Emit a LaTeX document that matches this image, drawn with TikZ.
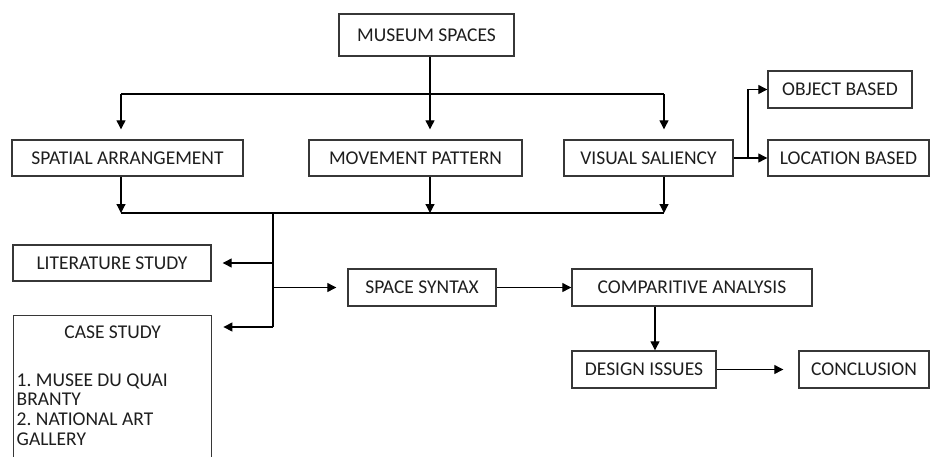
\documentclass[tikz,border=0pt]{standalone}
\usepackage{fontspec}
\setmainfont{Carlito}
\usetikzlibrary{arrows.meta}
\definecolor{inkgray}{RGB}{30,30,30}
\definecolor{framegray}{RGB}{55,55,55}
\frenchspacing
\begin{document}
\begin{tikzpicture}[x=1pt,y=-1pt,
  box/.style={draw=framegray, line width=1.4pt, inner sep=0pt, text=inkgray,
    font=\fontsize{19.5}{21}\selectfont},
  ln/.style={draw=black, line width=1.2pt},
  arr/.style={ln, -{Triangle[length=9pt,width=9pt]}}]
\useasboundingbox (0,0) rectangle (930,456);
\fill[white] (0,0) rectangle (930,456);
\clip (0,0) rectangle (930,456);

% boxes
\node[box, minimum width=175pt, minimum height=42pt] (ms) at (426.5,35) {MUSEUM SPACES};
\node[box, minimum width=231pt, minimum height=36pt] (sa) at (127.5,158) {SPATIAL ARRANGEMENT};
\node[box, minimum width=213pt, minimum height=36pt] (mp) at (415.5,158) {MOVEMENT PATTERN};
\node[box, minimum width=169pt, minimum height=36pt] (vs) at (648.5,158) {VISUAL SALIENCY};
\node[box, minimum width=144pt, minimum height=37pt] (ob) at (840,89.5) {OBJECT BASED};
\node[box, minimum width=161pt, minimum height=36pt] (lb) at (848.5,158) {LOCATION BASED};
\node[box, minimum width=198pt, minimum height=36pt] (lit) at (112,263) {LITERATURE STUDY};
\node[box, anchor=north west, inner xsep=3pt, inner ysep=10pt] (cs) at (13,315)
  {\parbox[t][150pt][t]{192pt}{\centering CASE STUDY\par\vspace{28pt}%
   \raggedright\baselineskip=19.8pt 1. MUSEE DU QUAI\\BRANTY\\2. NATIONAL ART\\GALLERY}};
\node[box, minimum width=148pt, minimum height=37pt] (ss) at (422,287.5) {SPACE SYNTAX};
\node[box, minimum width=240pt, minimum height=37pt] (ca) at (692,287.5) {COMPARITIVE ANALYSIS};
\node[box, minimum width=144pt, minimum height=37pt] (di) at (644,369.5) {DESIGN ISSUES};
\node[box, minimum width=130pt, minimum height=37pt] (con) at (864,369.5) {CONCLUSION};

% upper distribution bus
\coordinate (tl) at (121,94);
\coordinate (tm) at (430,94);
\coordinate (tr) at (664,94);
\draw[ln] (ms.south -| tm) -- (tm);
\draw[ln] (tl) -- (tr);
\draw[arr, shorten >=10pt] (tl) -- (sa.north -| tl);
\draw[arr, shorten >=10pt] (tm) -- (mp.north -| tm);
\draw[arr, shorten >=10pt] (tr) -- (vs.north -| tr);

% visual saliency split
\coordinate (vj) at (748,158);
\draw[ln] (vs.east) -- (vj);
\draw[arr] (vj) -- (lb.west);
\draw[arr] (vj) |- (ob.west);

% lower collecting bus
\coordinate (bl) at (121,213);
\coordinate (bm) at (430,213);
\coordinate (br) at (664,213);
\draw[arr] (sa.south -| bl) -- (bl);
\draw[arr] (mp.south -| bm) -- (bm);
\draw[arr] (vs.south -| br) -- (br);
\draw[ln] (bl) -- (br);

% spine towards studies and space syntax
\coordinate (sp) at (273,213);
\coordinate (spend) at (273,327);
\draw[ln] (sp) -- (spend);
\draw[arr, shorten >=11pt] (sp |- lit.east) -- (lit.east);
\draw[arr, shorten >=11pt] (spend) -- (spend -| cs.east);
\draw[arr, shorten >=11pt] (sp |- ss.west) -- (ss.west);

% analysis chain
\coordinate (cx) at (655,0);
\draw[arr] (ss.east) -- (ca.west);
\draw[arr] (ca.south -| cx) -- (di.north -| cx);
\draw[arr, shorten >=15pt] (di.east) -- (con.west);
\end{tikzpicture}
\end{document}
